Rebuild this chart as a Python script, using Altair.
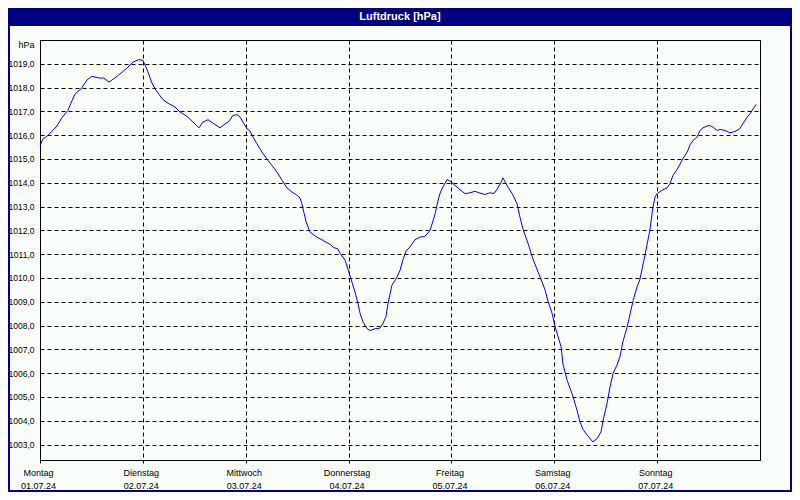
import altair as alt
import pandas as pd

# hours since 01.07.24 00:00
hours = [0.0, 0.7, 1.6, 3.0, 4.0, 5.1, 6.5, 7.5, 8.2, 9.6, 11.0, 12.1, 14.0, 14.9, 16.1, 17.5,
         18.7, 20.1, 21.7, 22.9, 24.0, 25.0, 26.1, 27.1, 28.7, 29.9, 31.5, 32.7, 34.3, 35.7,
         37.1, 38.0, 39.2, 40.4, 42.0, 43.2, 44.1, 45.0, 46.0, 46.7, 47.6, 48.3, 49.0, 49.7,
         50.6, 51.8, 52.9, 54.1, 55.3, 56.5, 57.6, 58.8, 60.0, 60.7, 61.1, 62.1, 63.0, 64.4,
         66.0, 67.7, 68.6, 69.5, 70.0, 71.2, 72.3, 73.5, 74.2, 74.7, 75.4, 76.3, 77.0, 78.2,
         79.3, 80.0, 80.7, 81.2, 81.7, 82.1, 83.1, 84.0, 84.7, 85.4, 86.3, 87.5, 88.7, 89.8,
         91.0, 91.5, 92.2, 92.6, 93.3, 94.0, 95.0, 95.7, 96.4, 98.0, 99.2, 100.3, 101.5, 102.4,
         103.8, 105.0, 105.9, 106.6, 107.6, 108.0, 109.2, 110.4, 111.3, 112.0, 112.7, 113.9,
         115.0, 116.7, 117.8, 118.5, 119.5, 120.2, 120.9, 121.6, 122.0, 123.0, 123.7, 124.4,
         125.3, 126.0, 126.7, 127.9, 129.0, 130.0, 130.9, 131.4, 132.3, 133.0, 133.7, 134.6,
         135.3, 136.0, 137.0, 137.7, 138.4, 139.3, 140.0, 141.2, 142.3, 143.0, 143.5, 144.0,
         145.1, 146.3, 147.0, 147.7, 148.6, 149.3, 150.0, 151.0, 151.7, 152.4, 153.3, 154.0,
         154.7, 155.6, 156.3, 157.0, 158.0, 158.7, 159.8, 161.0, 162.2, 163.3, 164.0, 165.0,
         165.7, 166.4, 167.1]

pressure = [1015.55, 1015.85, 1015.95, 1016.2, 1016.4, 1016.73, 1017.04, 1017.46, 1017.74, 1017.95,
            1018.33, 1018.47, 1018.4, 1018.4, 1018.23, 1018.41, 1018.58, 1018.79, 1019.07, 1019.17,
            1019.15, 1018.75, 1018.2, 1017.88, 1017.49, 1017.34, 1017.18, 1016.97, 1016.79, 1016.55,
            1016.31, 1016.55, 1016.65, 1016.5, 1016.31, 1016.48, 1016.58, 1016.83, 1016.86, 1016.76,
            1016.48, 1016.27, 1016.17, 1015.92, 1015.64, 1015.29, 1015.01, 1014.73, 1014.45, 1014.1,
            1013.79, 1013.61, 1013.47, 1013.35, 1013.12, 1012.35, 1011.93, 1011.74, 1011.58, 1011.41,
            1011.27, 1011.23, 1011.04, 1010.74, 1010.11, 1009.41, 1008.92, 1008.5, 1008.14, 1007.87,
            1007.79, 1007.87, 1007.89, 1008.08, 1008.36, 1008.92, 1009.34, 1009.69, 1009.97, 1010.32,
            1010.77, 1011.13, 1011.3, 1011.61, 1011.72, 1011.74, 1012.0, 1012.28, 1012.7, 1013.05,
            1013.54, 1013.82, 1014.14, 1014.07, 1013.96, 1013.71, 1013.54, 1013.58, 1013.64, 1013.58,
            1013.51, 1013.58, 1013.55, 1013.71, 1014.03, 1014.21, 1013.82, 1013.47, 1013.12, 1012.55,
            1012.05, 1011.44, 1010.81, 1010.03, 1009.52, 1009.05, 1008.5, 1007.94, 1007.52, 1007.1,
            1006.4, 1005.7, 1005.35, 1005.0, 1004.44, 1003.95, 1003.63, 1003.35, 1003.11, 1003.25,
            1003.53, 1004.02, 1004.72, 1005.42, 1005.98, 1006.33, 1006.68, 1007.31, 1007.94, 1008.5,
            1009.06, 1009.62, 1009.95, 1011.0, 1012.0, 1012.95, 1013.4, 1013.54, 1013.68, 1013.79,
            1013.96, 1014.31, 1014.55, 1014.77, 1015.01, 1015.29, 1015.6, 1015.78, 1015.92, 1016.2,
            1016.31, 1016.38, 1016.41, 1016.34, 1016.2, 1016.24, 1016.2, 1016.1, 1016.16, 1016.27,
            1016.48, 1016.76, 1016.9, 1017.11, 1017.29]

day_names = ["Montag", "Dienstag", "Mittwoch", "Donnerstag", "Freitag", "Samstag", "Sonntag"]
dates = ["01.07.24", "02.07.24", "03.07.24", "04.07.24", "05.07.24", "06.07.24", "07.07.24"]
y_ticks = list(range(1003, 1020))
title_text = "Luftdruck [hPa]"
unit_text = "hPa"

FONT = "Liberation Sans"
NAVY = "#000080"
BG = "#fafefa"

df = pd.DataFrame({"h": hours, "p": pressure})
x_ticks = [i * 24 for i in range(len(day_names))]
label_arr = "[" + ",".join(f"['{d}','{t}']" for d, t in zip(day_names, dates)) + "]"

x_enc = alt.X(
    "h:Q",
    scale=alt.Scale(domain=[0, 168], nice=False, zero=False),
    axis=alt.Axis(
        values=x_ticks,
        labelExpr=f"{label_arr}[round(datum.value/24)]",
        title=None,
        grid=True, gridColor="black", gridDash=[4, 3], gridWidth=1,
        ticks=True, tickSize=3, tickColor="black",
        domainColor="black",
        labelFont=FONT, labelFontSize=9, labelColor="black",
        labelPadding=5, labelLineHeight=13, labelBaseline="top",
        labelFlush=False, labelAlign="center", labelOffset=-2,
        labelOverlap=False,
    ),
)

y_enc = alt.Y(
    "p:Q",
    scale=alt.Scale(domain=[1002.35, 1020], nice=False, zero=False),
    axis=alt.Axis(
        values=y_ticks,
        labelExpr="replace(format(datum.value, '.1f'), '.', ',')",
        title=unit_text, titleAngle=0, titleAlign="right", titleBaseline="middle",
        titleX=-6, titleY=4, titleFont=FONT, titleFontSize=9, titleFontWeight="normal",
        titleColor="black",
        ticks=False, labelPadding=6,
        grid=True, gridColor="black", gridDash=[4, 3], gridWidth=1,
        domainColor="black",
        labelFont=FONT, labelFontSize=8.5, labelColor="black", labelBaseline="middle",
        labelOverlap=False,
    ),
)

line = alt.Chart(df).mark_line(color="#0000ff", strokeWidth=1).encode(x=x_enc, y=y_enc)

tdf = pd.DataFrame({"t": [title_text]})
bar = alt.Chart(tdf).mark_rect(color=NAVY).encode(
    x=alt.value(-32), x2=alt.value(752), y=alt.value(-32), y2=alt.value(-14)
)
title = alt.Chart(tdf).mark_text(
    color="white", font=FONT, fontSize=11, fontWeight="bold", align="center", baseline="middle"
).encode(x=alt.value(360), y=alt.value(-23), text="t:N")
frame = alt.Chart(tdf).mark_rect(fillOpacity=0, stroke=NAVY, strokeWidth=2).encode(
    x=alt.value(-31), x2=alt.value(751), y=alt.value(-31), y2=alt.value(451)
)

chart = alt.layer(line, frame, bar, title).properties(
    width=720, height=420,
    padding={"left": 32, "top": 32, "right": 32, "bottom": 32},
    autosize="none",
    background=BG,
).configure_view(stroke="black", strokeWidth=1)

chart.save("out.html", embed_options={"renderer": "svg", "actions": False})
